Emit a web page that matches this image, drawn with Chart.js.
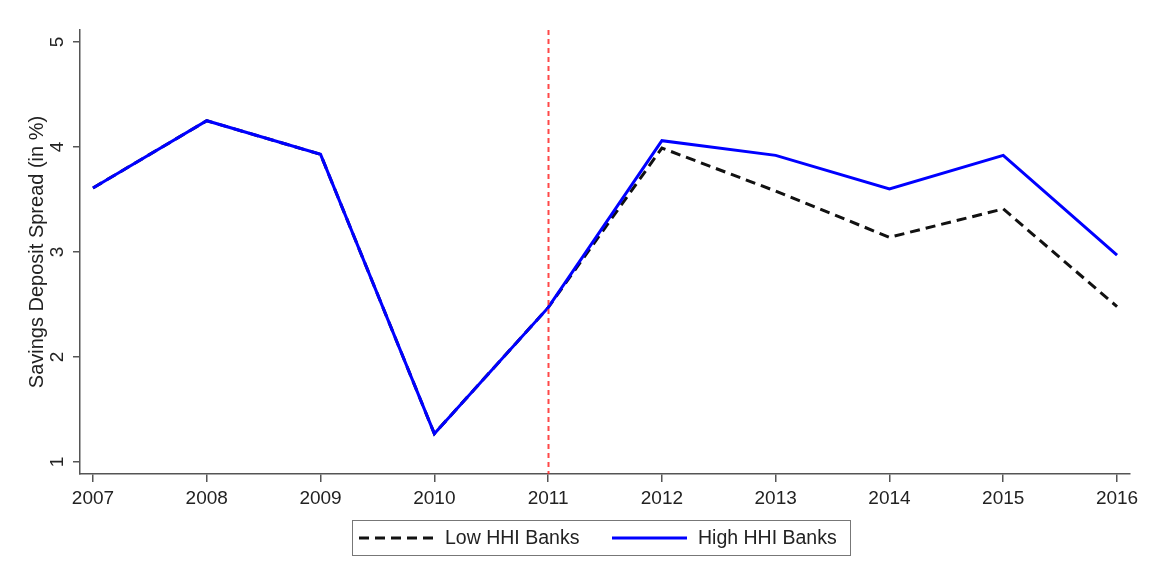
<!DOCTYPE html>
<html>
<head>
<meta charset="utf-8">
<script src="https://cdn.jsdelivr.net/npm/chart.js@4"></script>
<style>
    body { margin: 0; background: #fff; font-family: "Liberation Sans", Arial, sans-serif; }
    #wrap { position: relative; width: 1151px; height: 576px; }
    #legend {
        position: absolute; left: 352px; top: 520px; width: 499px; height: 36px;
        border: 1.5px solid #777; box-sizing: border-box;
        font-size: 19.5px; color: #222;
    }
    #legend svg, #legend span { position: absolute; top: 50%; transform: translateY(-50%); }
    #legend span { line-height: 1; white-space: nowrap; }
</style>
</head>
<body>
<div id="wrap">
    <canvas id="spreadChart" width="1151" height="576"></canvas>
    <div id="legend">
        <svg width="76" height="10" style="left:5px"><line x1="1" y1="5" x2="75" y2="5" stroke="#111" stroke-width="3" stroke-dasharray="10,6"/></svg>
        <span style="left:92px">Low HHI Banks</span>
        <svg width="76" height="10" style="left:259px"><line x1="0" y1="5" x2="75" y2="5" stroke="#0000ff" stroke-width="3"/></svg>
        <span style="left:345px">High HHI Banks</span>
    </div>
</div>
<script>
// Savings deposit spread by bank concentration
const years = [2007, 2008, 2009, 2010, 2011, 2012, 2013, 2014, 2015, 2016];
const lowHHI = [3.61, 4.25, 3.93, 1.27, 2.47, 3.99, 3.58, 3.14, 3.41, 2.48];
const highHHI = [3.61, 4.25, 3.93, 1.27, 2.47, 4.06, 3.92, 3.60, 3.92, 2.97];
const yTicks = [1, 2, 3, 4, 5];
const eventYear = 2011;

const fontFamily = '"Liberation Sans", Arial, sans-serif';
const axisColor = '#555';

function toPoints(values) {
    return years.map((yr, i) => ({ x: yr, y: values[i] }));
}

// red dotted line at the event year + rotated y tick labels
const extrasPlugin = {
    id: 'extras',
    afterDatasetsDraw(chart) {
        const ctx = chart.ctx;
        const xs = chart.scales.x;
        const area = chart.chartArea;
        const px = Math.round(xs.getPixelForValue(eventYear)) + 0.5;
        ctx.save();
        ctx.strokeStyle = 'rgba(255, 40, 40, 0.85)';
        ctx.lineWidth = 2;
        ctx.setLineDash([5, 4]);
        ctx.beginPath();
        ctx.moveTo(px, area.top);
        ctx.lineTo(px, area.bottom);
        ctx.stroke();
        ctx.restore();
    },
    afterDraw(chart) {
        const ctx = chart.ctx;
        const ys = chart.scales.y;
        ctx.save();
        ctx.fillStyle = '#222';
        ctx.font = '19px ' + fontFamily;
        ctx.textAlign = 'center';
        ctx.textBaseline = 'middle';
        yTicks.forEach(v => {
            ctx.save();
            ctx.translate(58, ys.getPixelForValue(v));
            ctx.rotate(-Math.PI / 2);
            ctx.fillText(String(v), 0, 0);
            ctx.restore();
        });
        ctx.restore();
    }
};

const ctx = document.getElementById('spreadChart').getContext('2d');

new Chart(ctx, {
    type: 'line',
    data: {
        datasets: [{
            label: 'Low HHI Banks',
            data: toPoints(lowHHI),
            borderColor: '#111',
            borderWidth: 3,
            borderDash: [10, 6],
            pointRadius: 0,
            fill: false,
            tension: 0,
            order: 2
        }, {
            label: 'High HHI Banks',
            data: toPoints(highHHI),
            borderColor: '#0000ff',
            borderWidth: 3,
            pointRadius: 0,
            fill: false,
            tension: 0,
            order: 1
        }]
    },
    options: {
        responsive: false,
        animation: false,
        layout: {
            padding: { left: 0, right: 21, top: 30, bottom: 42 }
        },
        plugins: {
            legend: { display: false },
            tooltip: { enabled: false }
        },
        scales: {
            x: {
                type: 'linear',
                min: 2006.886,
                max: 2016.114,
                afterBuildTicks: (scale) => {
                    scale.ticks = years.map(v => ({ value: v }));
                },
                afterFit: (scale) => { scale.height = 60; },
                grid: {
                    display: true,
                    drawOnChartArea: false,
                    drawTicks: true,
                    tickLength: 8,
                    color: axisColor,
                    lineWidth: 1.5
                },
                border: { display: true, color: axisColor, width: 1.5 },
                ticks: {
                    color: '#222',
                    font: { family: fontFamily, size: 19 },
                    padding: 5,
                    maxRotation: 0,
                    callback: (v) => String(v)
                }
            },
            y: {
                min: 0.886,
                max: 5.114,
                afterBuildTicks: (scale) => {
                    scale.ticks = yTicks.map(v => ({ value: v }));
                },
                afterFit: (scale) => { scale.width = 80; },
                grid: {
                    display: true,
                    drawOnChartArea: false,
                    drawTicks: true,
                    tickLength: 7,
                    color: axisColor,
                    lineWidth: 1.5
                },
                border: { display: true, color: axisColor, width: 1.5 },
                ticks: { display: false },
                title: {
                    display: true,
                    text: 'Savings Deposit Spread (in %)',
                    color: '#222',
                    font: { family: fontFamily, size: 20 },
                    padding: { top: 25, bottom: 0 }
                }
            }
        }
    },
    plugins: [extrasPlugin]
});
</script>
</body>
</html>
